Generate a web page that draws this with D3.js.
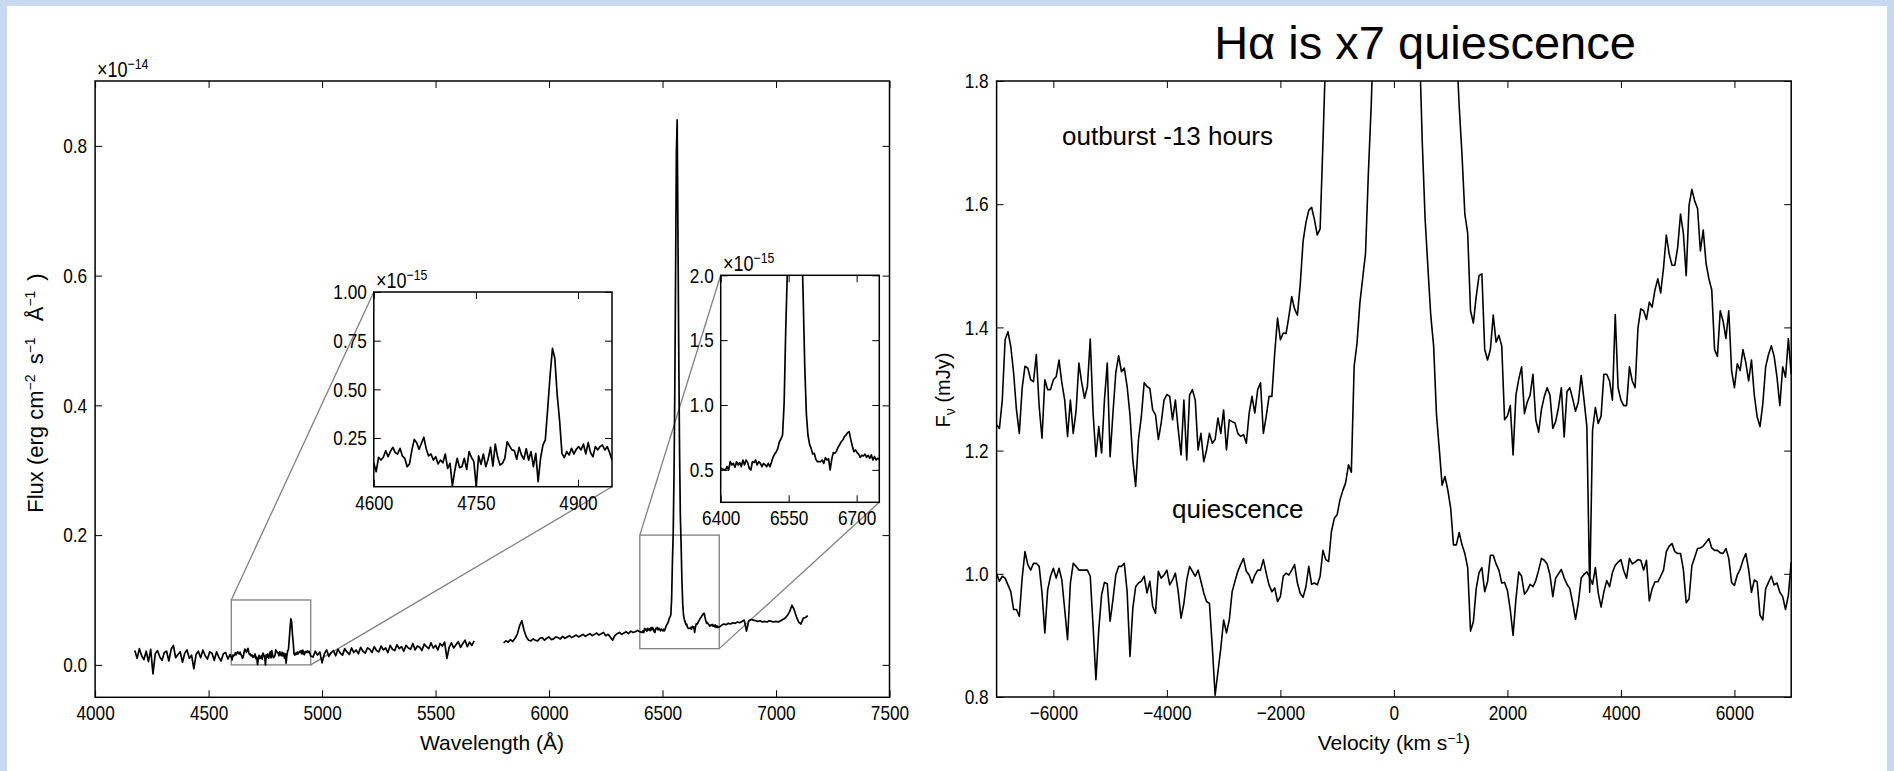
<!DOCTYPE html>
<html>
<head>
<meta charset="utf-8">
<script src="https://cdn.jsdelivr.net/npm/d3@7"></script>
<style>
  body { margin: 0; background: #c6d9f1; }
  svg { display: block; }
</style>
</head>
<body>
<script>
// ---- spectrum, flux in units of 1e-15 erg cm-2 s-1 A-1, sampled on regular pixel grids ----
const blueAStart = 4175, blueAStep = 10;
const blueAFlux = [0.22,0.10,0.25,0.14,0.08,0.21,0.05,0.24,-0.14,0.17,0.22,0.12,0.07,0.19,0.21,0.06,0.24,0.30,0.11,0.16,
  0.20,0.04,0.18,0.23,0.10,0.15,-0.06,0.16,0.21,0.11,0.23,0.14,0.09,0.20,0.18,0.07,0.20,0.12,0.06,0.17,0.19,0.09,0.16];

// H-beta region (also shown in the first inset)
const hbetaStart = 4600, hbetaStep = 3.5;
const hbetaFlux = [0.120,0.077,0.151,0.137,0.151,0.185,0.154,0.182,0.202,0.175,
  0.168,0.197,0.158,0.146,0.103,0.117,0.189,0.243,0.226,0.192,
  0.223,0.254,0.195,0.158,0.168,0.137,0.154,0.117,0.137,0.123,
  0.168,0.094,0.120,0.004,0.082,0.146,0.098,0.103,0.146,0.089,
  0.180,0.151,0.129,0.000,0.158,0.115,0.168,0.103,0.141,0.202,
  0.106,0.219,0.151,0.111,0.120,0.146,0.231,0.209,0.189,0.185,
  0.141,0.202,0.163,0.141,0.195,0.137,0.180,0.103,0.171,0.026,
  0.146,0.214,0.240,0.400,0.570,0.710,0.660,0.470,0.340,0.170,
  0.150,0.180,0.163,0.197,0.168,0.192,0.206,0.189,0.219,0.168,
  0.226,0.175,0.154,0.206,0.189,0.206,0.214,0.189,0.206,0.175,0.137];

const blueCStart = 4960, blueCStep = 10;
const blueCFlux = [0.12,0.21,0.15,0.20,0.03,0.17,0.23,0.13,0.19,0.22,
  0.14,0.24,0.18,0.15,0.25,0.20,0.16,0.26,0.19,0.23,
  0.17,0.27,0.21,0.18,0.26,0.24,0.19,0.28,0.22,0.20,
  0.29,0.23,0.26,0.19,0.30,0.24,0.22,0.31,0.25,0.28,
  0.21,0.30,0.26,0.24,0.33,0.23,0.29,0.27,0.22,0.32,
  0.28,0.25,0.34,0.26,0.30,0.23,0.33,0.29,0.35,0.10,
  0.27,0.34,0.26,0.31,0.36,0.27,0.33,0.38,0.28,0.35,0.30,0.37];

const redAStart = 5800, redAStep = 10;
const redAFlux = [0.34,0.37,0.35,0.39,0.36,0.41,0.47,0.60,0.68,0.53,
  0.43,0.38,0.37,0.40,0.38,0.37,0.41,0.42,0.38,0.41,
  0.43,0.39,0.40,0.43,0.42,0.40,0.44,0.41,0.43,0.45,
  0.42,0.44,0.46,0.43,0.45,0.47,0.44,0.46,0.48,0.45,
  0.47,0.49,0.46,0.48,0.50,0.45,0.47,0.43,0.38,0.45,
  0.48,0.50,0.47,0.49,0.51,0.48,0.52,0.50,0.51,0.53];

// H-alpha region (also shown in the second inset)
const halphaStart = 6400, halphaStep = 3.5;
const halphaFlux = [0.512,0.507,0.504,0.499,0.525,0.499,0.563,0.538,0.550,0.520,
  0.563,0.538,0.556,0.525,0.576,0.538,0.576,0.556,0.512,0.499,
  0.563,0.556,0.576,0.538,0.563,0.550,0.525,0.550,0.538,0.525,
  0.550,0.525,0.558,0.597,0.622,0.638,0.666,0.717,0.738,0.769,
  1.013,1.578,2.02,2.9,4.2,6.0,7.9,8.4,6.6,4.8,
  3.3,2.3,1.835,1.296,0.936,0.769,0.700,0.666,0.622,0.628,
  0.581,0.563,0.563,0.563,0.576,0.550,0.594,0.576,0.586,0.499,
  0.581,0.633,0.628,0.643,0.674,0.694,0.717,0.730,0.756,0.769,
  0.787,0.795,0.735,0.684,0.640,0.653,0.633,0.622,0.597,0.612,
  0.607,0.622,0.597,0.612,0.589,0.615,0.576,0.602,0.576,0.589,0.581];

const redCStart = 6760, redCStep = 10;
const redCFlux = [0.61,0.63,0.62,0.64,0.63,0.65,0.64,0.66,0.65,0.67,
  0.69,0.52,0.68,0.70,0.69,0.68,0.67,0.68,0.66,0.67,
  0.66,0.68,0.67,0.66,0.67,0.66,0.68,0.70,0.72,0.76,
  0.82,0.92,0.85,0.74,0.66,0.63,0.72,0.73,0.76];

// ---- H-alpha velocity profiles, F_nu in mJy ----
const velStart = -7000, velStep = 50;
const outburstFlux = [1.242,1.236,1.282,1.38,1.393,1.369,1.326,1.266,1.228,1.301,
  1.337,1.334,1.315,1.312,1.356,1.272,1.220,1.315,1.299,1.299,
  1.315,1.320,1.347,1.310,1.282,1.223,1.282,1.228,1.264,1.342,
  1.310,1.285,1.304,1.381,1.261,1.190,1.239,1.196,1.282,1.342,
  1.190,1.261,1.326,1.354,1.328,1.334,1.304,1.258,1.185,1.142,
  1.218,1.255,1.310,1.304,1.301,1.266,1.258,1.218,1.245,1.282,
  1.291,1.288,1.250,1.282,1.234,1.193,1.282,1.185,1.290,1.299,
  1.282,1.201,1.228,1.182,1.201,1.228,1.212,1.218,1.253,1.228,
  1.266,1.201,1.250,1.247,1.245,1.228,1.223,1.226,1.212,1.261,
  1.288,1.261,1.299,1.310,1.228,1.255,1.288,1.288,1.358,1.415,
  1.380,1.391,1.390,1.418,1.45,1.43,1.42,1.47,1.54,1.57,
  1.59,1.595,1.575,1.55,1.56,1.70,1.85,2.05,2.3,2.6,
  2.9,3.2,3.5,3.8,4.1,4.4,4.7,5.0,5.3,5.6,
  5.9,6.2,6.5,6.8,7.0,7.2,7.35,7.45,7.5,7.5,
  7.45,7.35,7.2,7.0,6.8,6.5,6.2,5.9,5.5,5.1,
  4.7,4.3,3.9,3.5,3.1,2.8,2.5,2.3,2.15,2.05,
  1.98,1.92,1.86,1.76,1.68,1.584,1.553,1.427,1.407,1.45,
  1.484,1.487,1.364,1.347,1.364,1.42,1.376,1.387,1.370,1.25,
  1.256,1.273,1.193,1.29,1.316,1.336,1.26,1.279,1.29,1.324,
  1.25,1.23,1.267,1.288,1.302,1.29,1.236,1.247,1.27,1.302,
  1.222,1.296,1.302,1.284,1.264,1.279,1.322,1.282,1.239,0.97,
  1.233,1.27,1.244,1.256,1.324,1.324,1.313,1.282,1.421,1.302,
  1.282,1.273,1.273,1.336,1.313,1.302,1.399,1.43,1.427,1.413,
  1.441,1.433,1.461,1.479,1.456,1.496,1.55,1.519,1.501,1.501,
  1.53,1.584,1.553,1.484,1.598,1.624,1.605,1.593,1.524,1.558,
  1.504,1.479,1.461,1.364,1.353,1.427,1.41,1.382,1.427,1.33,
  1.302,1.341,1.33,1.364,1.343,1.313,1.347,1.29,1.255,1.239,
  1.276,1.336,1.356,1.37,1.353,1.319,1.273,1.336,1.319,1.382,1.324];
const quiescenceFlux = [1.000,0.988,0.996,0.993,0.982,0.971,0.942,0.942,0.931,0.993,
  1.036,1.015,1.006,1.017,1.017,1.012,0.969,0.904,0.974,0.996,
  1.009,0.993,1.009,0.990,0.942,0.893,0.985,1.017,1.012,1.006,
  1.006,1.006,1.006,0.996,0.915,0.828,0.909,0.966,0.986,0.984,
  0.923,0.958,0.998,1.012,1.012,1.017,0.971,0.866,0.944,0.979,
  0.985,0.988,0.996,0.969,0.988,0.947,0.936,1.004,0.993,0.998,
  1.006,0.982,0.990,1.001,0.971,0.928,0.952,0.990,1.012,1.004,
  0.996,1.006,0.988,0.969,0.955,0.952,0.882,0.803,0.841,0.879,
  0.925,0.904,0.925,0.971,0.988,1.004,1.015,1.025,1.004,0.998,
  0.985,0.998,1.006,1.006,1.023,1.001,0.982,0.971,0.977,0.955,
  0.963,0.996,1.001,0.998,1.006,1.015,0.985,0.968,0.962,0.979,
  1.012,0.983,0.985,0.982,0.996,1.038,1.023,1.020,1.069,1.090,
  1.096,1.120,1.135,1.148,1.177,1.165,1.337,1.374,1.439,1.48,
  1.52,1.65,1.76,1.9,2.05,2.2,2.35,2.45,2.55,2.6,
  2.6,2.6,2.55,2.5,2.4,2.3,2.2,2.1,2.0,1.86,
  1.70,1.576,1.496,1.419,1.370,1.259,1.202,1.144,1.158,1.136,
  1.107,1.047,1.047,1.067,1.047,1.033,1.010,0.907,0.922,0.976,
  1.002,1.010,0.971,0.987,1.030,1.030,1.016,1.006,0.985,0.986,
  0.973,0.942,0.900,0.959,1.003,0.996,0.967,0.973,0.983,0.979,
  0.989,1.006,1.025,1.022,1.016,0.998,0.963,0.993,1.000,1.007,
  0.993,0.983,0.976,0.953,0.926,0.953,0.993,0.999,1.003,0.994,
  0.983,1.010,0.969,0.946,0.971,0.989,0.979,1.002,1.014,1.019,
  1.023,1.005,0.993,1.025,1.016,1.019,1.023,1.022,1.006,1.022,
  0.956,0.976,0.987,0.987,0.996,1.006,1.036,1.045,1.049,1.036,
  1.033,1.033,1.007,0.953,0.959,1.013,1.027,1.041,1.042,1.045,
  1.051,1.057,1.042,1.038,1.038,1.034,1.033,1.041,1.025,0.986,
  0.981,0.998,1.007,1.022,1.033,1.007,0.970,0.990,0.987,0.933,
  0.925,0.976,0.986,0.996,0.982,0.985,0.970,0.963,0.942,0.965,1.019];

// ticks
const mainXTicks = [4000,4500,5000,5500,6000,6500,7000,7500];
const mainYTicks = [0.0,0.2,0.4,0.6,0.8];
const inset1XTicks = [4600,4750,4900], inset1YTicks = [0.25,0.50,0.75,1.00];
const inset2XTicks = [6400,6550,6700], inset2YTicks = [0.5,1.0,1.5,2.0];
const velXTicks = [-6000,-4000,-2000,0,2000,4000,6000];
const velYTicks = [0.8,1.0,1.2,1.4,1.6,1.8];

const textFont = '"Liberation Sans", Arial, sans-serif';
const squeeze = 0.82;   // tick labels are set in a condensed face

function seg(start, step, vals) {
  return vals.map((f, i) => ({w: start + step * i, f: f}));
}
const blueSpec = seg(blueAStart, blueAStep, blueAFlux)
  .concat(seg(hbetaStart, hbetaStep, hbetaFlux), seg(blueCStart, blueCStep, blueCFlux));
const redSpec = seg(redAStart, redAStep, redAFlux)
  .concat(seg(halphaStart, halphaStep, halphaFlux), seg(redCStart, redCStep, redCFlux));

let width = 1894, height = 771;
let svg = d3.select("body").append("svg")
  .attr("width", width).attr("height", height);

svg.append("rect").attr("x", 7).attr("y", 6)
  .attr("width", width - 14).attr("height", height - 6).attr("fill", "#fff");

let defs = svg.append("defs");

function frameAxes(g, x, y, xTicks, yTicks, xFmt, yFmt, xPad, yPad) {
  const [x0, x1] = x.range(), [y0, y1] = y.range();
  let bottom = g.append("g").attr("transform", "translate(0," + y0 + ")")
    .call(d3.axisBottom(x).tickValues(xTicks).tickFormat(xFmt).tickSizeInner(-7).tickSizeOuter(0).tickPadding(xPad));
  g.append("g").attr("transform", "translate(0," + y1 + ")")
    .call(d3.axisTop(x).tickValues(xTicks).tickFormat("").tickSizeInner(-7).tickSizeOuter(0));
  let leftAx = g.append("g").attr("transform", "translate(" + x0 + ",0)")
    .call(d3.axisLeft(y).tickValues(yTicks).tickFormat(yFmt).tickSizeInner(-7).tickSizeOuter(0).tickPadding(yPad));
  g.append("g").attr("transform", "translate(" + x1 + ",0)")
    .call(d3.axisRight(y).tickValues(yTicks).tickFormat("").tickSizeInner(-7).tickSizeOuter(0));
  [bottom, leftAx].forEach(a => a.attr("font-family", textFont).attr("font-size", 21));
  bottom.selectAll("text").attr("transform", "scale(" + squeeze + ",1)");
  leftAx.selectAll("text").attr("x", -yPad / squeeze).attr("transform", "scale(" + squeeze + ",1)");
  g.selectAll(".domain").remove();
  g.selectAll(".tick line").attr("stroke", "#000").attr("stroke-width", 1);
  g.selectAll(".tick text").attr("fill", "#000");
  g.append("rect").attr("x", x0).attr("y", y1)
    .attr("width", x1 - x0).attr("height", y0 - y1)
    .attr("fill", "none").attr("stroke", "#000").attr("stroke-width", 1.5);
}

function clipFor(id, x, y) {
  const [x0, x1] = x.range(), [y0, y1] = y.range();
  defs.append("clipPath").attr("id", id).append("rect")
    .attr("x", x0).attr("y", y1).attr("width", x1 - x0).attr("height", y0 - y1);
  return "url(#" + id + ")";
}

function expLabel(g, x, y, base, exp) {
  let t = g.append("text").attr("x", x / squeeze).attr("y", y)
    .attr("transform", "scale(" + squeeze + ",1)")
    .attr("font-family", textFont).attr("font-size", 22).attr("fill", "#000");
  t.append("tspan").text(base);
  t.append("tspan").attr("dy", -8).attr("font-size", 15).text(exp);
}

// ================= left panel: full spectrum =================
let left = svg.append("g");
let xMain = d3.scaleLinear().domain([4000, 7500]).range([95.1, 889.5]);
let yMain = d3.scaleLinear().domain([-0.05, 0.9]).range([697.3, 81]);

frameAxes(left, xMain, yMain, mainXTicks, mainYTicks, d3.format("d"), d3.format(".1f"), 8, 8);
expLabel(left, 97, 77, "\u00d710", "\u221214");

let xIn1 = d3.scaleLinear().domain([4600, 4950]).range([373.8, 612]);
let yIn1 = d3.scaleLinear().domain([0, 1.0]).range([486.7, 292]);
let xIn2 = d3.scaleLinear().domain([6400, 6750]).range([720.7, 879.3]);
let yIn2 = d3.scaleLinear().domain([0.25, 2.0]).range([502.3, 275.3]);

// zoom boxes and connector lines
const grey = "#808080";
function markInset(xi, yi) {
  const [w0, w1] = xi.domain(), [f0, f1] = yi.domain();
  const bx0 = xMain(w0), bx1 = xMain(w1), by0 = yMain(f0 / 10), by1 = yMain(f1 / 10);
  left.append("rect").attr("x", bx0).attr("y", by1).attr("width", bx1 - bx0).attr("height", by0 - by1)
    .attr("fill", "none").attr("stroke", grey).attr("stroke-width", 1.3);
  left.append("line").attr("x1", bx0).attr("y1", by1).attr("x2", xi.range()[0]).attr("y2", yi.range()[1])
    .attr("stroke", grey).attr("stroke-width", 1.3);
  left.append("line").attr("x1", bx1).attr("y1", by0).attr("x2", xi.range()[1]).attr("y2", yi.range()[0])
    .attr("stroke", grey).attr("stroke-width", 1.3);
}
markInset(xIn1, yIn1);
markInset(xIn2, yIn2);

let mainLine = d3.line().x(d => xMain(d.w)).y(d => yMain(d.f / 10));
let mainClip = clipFor("clip-main", xMain, yMain);
[blueSpec, redSpec].forEach(s => {
  left.append("path").datum(s).attr("d", mainLine).attr("clip-path", mainClip)
    .attr("fill", "none").attr("stroke", "#000").attr("stroke-width", 1.7).attr("stroke-linejoin", "round");
});

function drawInset(id, xi, yi, xt, yt, yFmt, data, expX, expY) {
  let g = left.append("g");
  const [x0, x1] = xi.range(), [y0, y1] = yi.range();
  g.append("rect").attr("x", x0).attr("y", y1).attr("width", x1 - x0).attr("height", y0 - y1).attr("fill", "#fff");
  let line = d3.line().x(d => xi(d.w)).y(d => yi(d.f));
  g.append("path").datum(data).attr("d", line).attr("clip-path", clipFor(id, xi, yi))
    .attr("fill", "none").attr("stroke", "#000").attr("stroke-width", 1.7).attr("stroke-linejoin", "round");
  frameAxes(g, xi, yi, xt, yt, d3.format("d"), yFmt, 8, 7);
  expLabel(g, expX, expY, "\u00d710", "\u221215");
}
drawInset("clip-in1", xIn1, yIn1, inset1XTicks, inset1YTicks, d3.format(".2f"), blueSpec, 376, 288);
drawInset("clip-in2", xIn2, yIn2, inset2XTicks, inset2YTicks, d3.format(".1f"), redSpec, 723, 271);

left.append("text").attr("x", 492).attr("y", 750)
  .attr("text-anchor", "middle").attr("font-family", textFont).attr("font-size", 21)
  .text("Wavelength (\u00c5)");

let fluxLabel = left.append("text")
  .attr("transform", "translate(43,393) rotate(-90)")
  .attr("text-anchor", "middle").attr("font-family", textFont).attr("font-size", 22);
fluxLabel.append("tspan").text("Flux (erg cm");
fluxLabel.append("tspan").attr("dy", -8).attr("font-size", 14).text("\u22122");
fluxLabel.append("tspan").attr("dy", 8).attr("dx", 4).text(" s");
fluxLabel.append("tspan").attr("dy", -8).attr("font-size", 14).text("\u22121");
fluxLabel.append("tspan").attr("dy", 8).attr("dx", 10).text(" \u00c5");
fluxLabel.append("tspan").attr("dy", -8).attr("font-size", 14).text("\u22121");
fluxLabel.append("tspan").attr("dy", 8).attr("dx", 10).text(")");

// ================= right panel: H-alpha profiles =================
let right = svg.append("g");
let xVel = d3.scaleLinear().domain([-7000, 7000]).range([996.6, 1791.2]);
let yVel = d3.scaleLinear().domain([0.8, 1.8]).range([697, 81]);

let velLine = d3.line().x(d => xVel(d.v)).y(d => yVel(d.f));
let velClip = clipFor("clip-vel", xVel, yVel);
[outburstFlux, quiescenceFlux].forEach(vals => {
  let pts = vals.map((f, i) => ({v: velStart + velStep * i, f: f}));
  right.append("path").datum(pts).attr("d", velLine).attr("clip-path", velClip)
    .attr("fill", "none").attr("stroke", "#000").attr("stroke-width", 1.6).attr("stroke-linejoin", "round");
});

frameAxes(right, xVel, yVel, velXTicks, velYTicks, d3.format("d"), d3.format(".1f"), 8, 8);

right.append("text").attr("x", 1425).attr("y", 59)
  .attr("text-anchor", "middle").attr("font-family", textFont).attr("font-size", 47)
  .text("H\u03b1 is x7 quiescence");

right.append("text").attr("x", 1062).attr("y", 145)
  .attr("font-family", textFont).attr("font-size", 26).text("outburst -13 hours");
right.append("text").attr("x", 1172).attr("y", 518)
  .attr("font-family", textFont).attr("font-size", 26).text("quiescence");

let velLabel = right.append("text").attr("x", 1394).attr("y", 750)
  .attr("text-anchor", "middle").attr("font-family", textFont).attr("font-size", 21);
velLabel.append("tspan").text("Velocity (km s");
velLabel.append("tspan").attr("dy", -7).attr("font-size", 14).text("\u22121");
velLabel.append("tspan").attr("dy", 7).text(")");

let fnuLabel = right.append("text")
  .attr("transform", "translate(950,390) rotate(-90)")
  .attr("text-anchor", "middle").attr("font-family", textFont).attr("font-size", 20);
fnuLabel.append("tspan").text("F");
fnuLabel.append("tspan").attr("dy", 5).attr("font-size", 14).text("\u03bd");
fnuLabel.append("tspan").attr("dy", -5).text(" (mJy)");
</script>
</body>
</html>
